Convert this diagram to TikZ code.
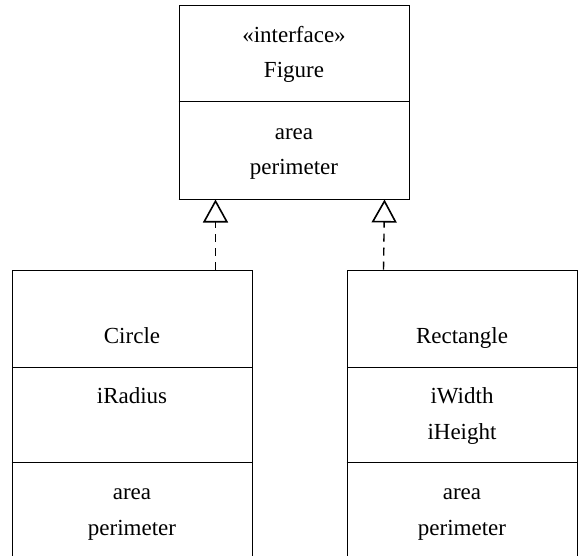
\documentclass[tikz,border=0pt]{standalone}
\usepackage{fontspec}
\setmainfont{Liberation Serif}
\usetikzlibrary{arrows.meta}
\tikzset{
  comp/.style={draw=black, line width=1pt, rectangle, inner sep=0pt, minimum width=#1},
  txt/.style={anchor=base, inner sep=0pt, font=\fontsize{23}{35}\selectfont},
  divider/.style={line width=1.6pt},
  realizes/.style={line width=1.4pt, dash pattern=on 8pt off 6pt,
    -{Triangle[open, length=23pt, width=25pt, line width=1.6pt]}}
}
\begin{document}
\begin{tikzpicture}[x=1pt,y=-1pt]
\useasboundingbox (0,0) rectangle (580,555);
% Figure interface
\node[comp=230, minimum height=96] (fig1) at (294,53) {};
\node[comp=230, minimum height=98] (fig2) at (294,150) {};
\draw[divider] (fig1.south west) -- (fig1.south east);
\draw[divider] (fig2.south west) -- (fig2.south east);
\node[txt] (figst) at (294,42) {«interface»};
\node[txt] (figname) at (294,77) {Figure};
\node[txt] (figop1) at (294,139) {area};
\node[txt] (figop2) at (294,174) {perimeter};
% Circle
\node[comp=240, minimum height=97] (cir1) at (132,318.5) {};
\node[comp=240, minimum height=95] (cir2) at (132,414.5) {};
\node[comp=240, minimum height=120] (cir3) at (132,522) {};
\draw[divider] (cir2.south west) -- (cir2.south east);
\node[txt] (cirname) at (132,343) {Circle};
\node[txt] (cirat1) at (132,403) {iRadius};
\node[txt] (cirop1) at (132,499) {area};
\node[txt] (cirop2) at (132,535) {perimeter};
% Rectangle
\node[comp=230, minimum height=97] (rec1) at (462,318.5) {};
\node[comp=230, minimum height=95] (rec2) at (462,414.5) {};
\node[comp=230, minimum height=120] (rec3) at (462,522) {};
\draw[divider] (rec2.south west) -- (rec2.south east);
\node[txt] (recname) at (462,343) {Rectangle};
\node[txt] (recat1) at (462,403) {iWidth};
\node[txt] (recat2) at (462,439) {iHeight};
\node[txt] (recop1) at (462,499) {area};
\node[txt] (recop2) at (462,535) {perimeter};
% realizations
\draw[realizes] ([xshift=204pt]cir1.north west) -- ([xshift=37pt]fig2.south west);
\draw[realizes] ([xshift=37pt]rec1.north west) -- ([xshift=-25pt]fig2.south east);
\end{tikzpicture}
\end{document}
